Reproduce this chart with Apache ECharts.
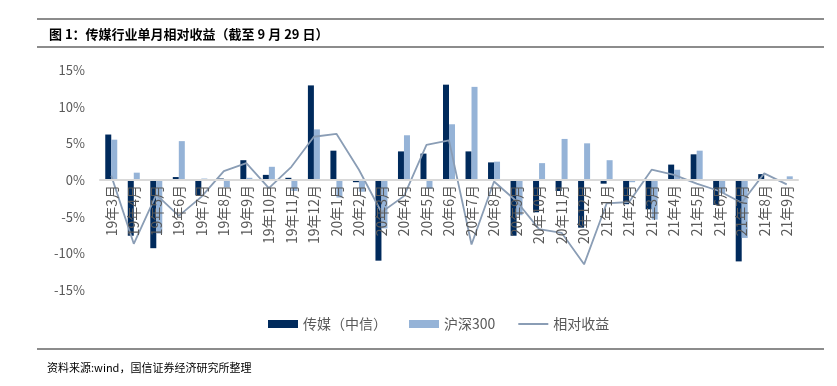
<!DOCTYPE html>
<html><head><meta charset="utf-8">
<script src="https://cdn.jsdelivr.net/npm/echarts@6/dist/echarts.min.js"></script>
<style>html,body{margin:0;padding:0;background:#fff}#c{width:837px;height:386px}</style>
</head><body><div id="c"></div>
<script>
const categories = ['19年3月','19年4月','19年5月','19年6月','19年7月','19年8月','19年9月','19年10月','19年11月','19年12月','20年1月','20年2月','20年3月','20年4月','20年5月','20年6月','20年7月','20年8月','20年9月','20年10月','20年11月','20年12月','21年1月','21年2月','21年3月','21年4月','21年5月','21年6月','21年7月','21年8月','21年9月'];
const media = [6.2,-7.6,-9.3,0.4,-2.1,0.2,2.7,0.7,0.3,12.9,4.0,-0.3,-11.0,3.9,3.6,13.0,3.9,2.4,-7.6,-4.4,-1.5,-6.5,-0.5,-3.3,-4.0,2.1,3.5,-3.4,-11.1,0.8,-0.1];
const hs300 = [5.5,1.0,-7.3,5.3,0.2,-1.0,0.3,1.8,-1.5,6.9,-2.4,-1.6,-6.6,6.1,-1.2,7.6,12.7,2.5,-4.8,2.3,5.6,5.0,2.7,-0.3,-5.4,1.4,4.0,-1.8,-7.9,-0.1,0.5];
const relative = [0.6,-8.7,-2.0,-4.9,-2.3,1.2,2.3,-1.1,1.8,5.9,6.3,1.4,-4.4,-2.2,4.8,5.4,-8.8,-0.2,-2.9,-6.7,-7.2,-11.5,-3.2,-3.0,1.4,0.7,-0.5,-1.5,-3.1,0.9,-0.6];
const yTicks = [-15,-10,-5,0,5,10,15];

const chart = echarts.init(document.getElementById('c'));
const gray = '#595959';
chart.setOption({
  animation:false,
  textStyle:{fontFamily:'"Noto Sans CJK SC","Noto Sans",sans-serif'},
  title:{text:'图 1：传媒行业单月相对收益（截至 9 月 29 日）',left:44,top:23,
    textStyle:{fontSize:13,fontWeight:'bold',color:'#000',fontFamily:'"Noto Sans CJK SC",sans-serif'}},
  graphic:[
    {type:'rect',shape:{x:37,y:18,width:787,height:2},style:{fill:'#8c8c8c'},silent:true},
    {type:'rect',shape:{x:37,y:46,width:787,height:2},style:{fill:'#8c8c8c'},silent:true},
    {type:'rect',shape:{x:37,y:348,width:787,height:2},style:{fill:'#8c8c8c'},silent:true},
    {type:'text',left:47,top:362,style:{text:'资料来源:wind，国信证券经济研究所整理',fontSize:11,fill:'#000',fontFamily:'"Noto Sans CJK SC",sans-serif'}}
  ],
  legend:{top:312,left:263,itemWidth:30,itemHeight:8,itemGap:22,
    textStyle:{fontSize:14,color:gray},
    data:[{name:'传媒（中信）',icon:'rect'},{name:'沪深300',icon:'rect'},{name:'相对收益',itemStyle:{opacity:0}}]},
  grid:{left:100,right:39,top:70,bottom:96,containLabel:false},
  xAxis:{type:'category',data:categories,z:10,offset:-110,
    axisLine:{onZero:false,lineStyle:{color:'#d9d9d9',width:2}},
    axisTick:{show:false},
    axisLabel:{rotate:90,fontSize:14,color:gray,margin:5,interval:0}},
  yAxis:{type:'value',min:-15,max:15,interval:5,
    axisLine:{show:false},axisTick:{show:false},splitLine:{show:false},
    axisLabel:{fontSize:13,color:gray,margin:15,formatter:v=>yTicks.includes(v)?v+'%':''}},
  series:[
    {name:'传媒（中信）',type:'bar',data:media,barWidth:6,barGap:'0%',itemStyle:{color:'#002A5C'}},
    {name:'沪深300',type:'bar',data:hs300,barWidth:6,barGap:'0%',itemStyle:{color:'#95B3D7'}},
    {name:'相对收益',type:'line',data:relative,symbol:'none',z:5,lineStyle:{color:'#8A9DB5',width:1.8},itemStyle:{color:'#8A9DB5'}}
  ]
});
</script></body></html>
